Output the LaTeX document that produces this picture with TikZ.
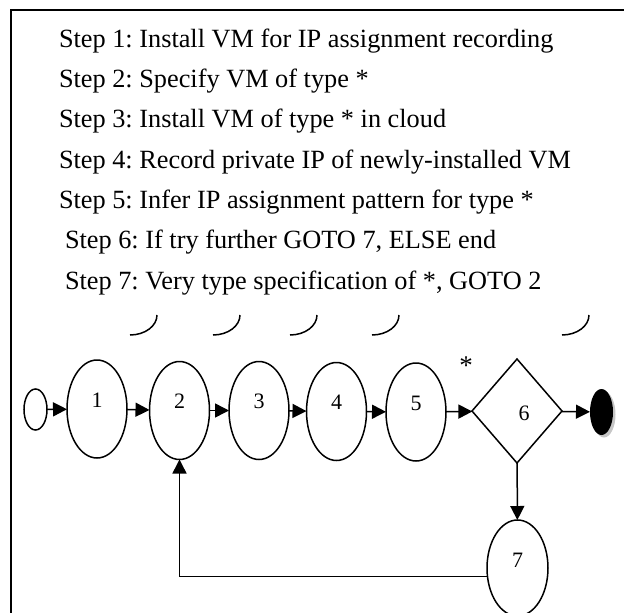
\documentclass[tikz,border=0pt]{standalone}
\usepackage{fontspec}
\setmainfont{Liberation Serif}
\usetikzlibrary{shapes.geometric,arrows.meta,shadows}
\frenchspacing
\begin{document}
\begin{tikzpicture}[x=1pt,y=-1pt,
  every node/.style={inner sep=0pt, outer sep=0pt},
  steptext/.style={anchor=base west, font=\fontsize{26.3}{30}\selectfont},
  stage/.style={draw, ellipse, line width=1.5pt, minimum width=60pt, minimum height=98pt},
  num/.style={font=\fontsize{22}{26}\selectfont},
  flow/.style={line width=1.5pt, -{Triangle[length=14pt,width=14pt]}},
  tick/.style={line width=1.5pt}]
\useasboundingbox (0,0) rectangle (624,613);
\draw[line width=1.5pt] (624,10) -- (11,10) -- (11,613);

\node[steptext] (t1) at (59,47) {Step 1: Install VM for IP assignment recording};
\node[steptext] (t2) at (59,87.3) {Step 2: Specify VM of type *};
\node[steptext] (t3) at (59,127.7) {Step 3: Install VM of type * in cloud};
\node[steptext] (t4) at (59,168) {Step 4: Record private IP of newly-installed VM};
\node[steptext] (t5) at (59,208.3) {Step 5: Infer IP assignment pattern for type *};
\node[steptext] (t6) at (65,248.7) {Step 6: If try further GOTO 7, ELSE end};
\node[steptext] (t7) at (65,289) {Step 7: Very type specification of *, GOTO 2};

\foreach \a in {130,213,290,372,562}
  \draw[tick] (\a,335) .. controls (\a+15,335) and (\a+27,326) .. (\a+27,315);

\node[draw, ellipse, line width=1.5pt, minimum width=23pt, minimum height=41pt] (s) at (35.5,409.5) {};
\node[stage, label={[num,yshift=9pt]center:1}] (e1) at (97,409) {};
\node[stage, label={[num,yshift=9pt]center:2}] (e2) at (179.5,410.5) {};
\node[stage, label={[num,yshift=9pt]center:3}] (e3) at (259,410.5) {};
\node[stage, label={[num,yshift=9pt]center:4}] (e4) at (336.5,411.5) {};
\node[stage, label={[num,yshift=9pt]center:5}] (e5) at (416,412) {};
\node[draw, diamond, aspect=0.87, line width=1.5pt, minimum width=90pt, minimum height=104pt,
      label={[num,xshift=7pt,yshift=-2pt]center:6}] (d6) at (517,411) {};
\node[ellipse, fill=black, minimum width=23pt, minimum height=46pt,
      drop shadow={shadow xshift=2.5pt, shadow yshift=-2.5pt, fill=gray!45, opacity=1}] (fin) at (601.5,412) {};
\node[stage, minimum width=61pt, minimum height=96pt, label={[num,yshift=8pt]center:7}] (e7) at (517.5,568) {};
\node[font=\fontsize{27}{29}\selectfont] (star) at (466,366) {*};

\draw[flow] (s) -- (e1);
\draw[flow] (e1) -- (e2);
\draw[flow] (e2) -- (e3);
\draw[flow] (e3) -- (e4);
\draw[flow] (e4) -- (e5);
\draw[flow] (e5) -- (d6);
\draw[flow] (d6) -- (fin);
\draw[flow] (d6) -- (e7);
\draw[flow] (e7.196) -| (e2.south);
\end{tikzpicture}
\end{document}
